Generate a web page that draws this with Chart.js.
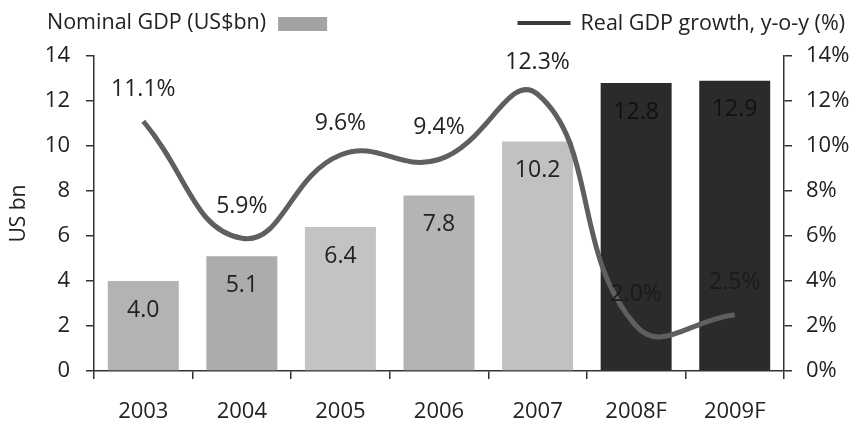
<!DOCTYPE html>
<html>
<head>
<meta charset="utf-8">
<script src="https://cdn.jsdelivr.net/npm/chart.js@4.4.1/dist/chart.umd.min.js"></script>
<style>
  html, body { margin: 0; padding: 0; background: #ffffff; }
  #wrap { width: 861px; height: 441px; position: relative; }
</style>
</head>
<body>
<div id="wrap"><canvas id="c"></canvas></div>
<script>
// ---- data ----
const categories = ['2003', '2004', '2005', '2006', '2007', '2008F', '2009F'];
const nominalGdp = [4.0, 5.1, 6.4, 7.8, 10.2, 12.8, 12.9];
const realGrowth = [11.1, 5.9, 9.6, 9.4, 12.3, 2.0, 2.5];
const barLabel = 'Nominal GDP (US$bn)';
const lineLabel = 'Real GDP growth, y-o-y (%)';
const leftAxisTitle = 'US bn';

// ---- styles ----
const FONT = '"Open Sans", Lato, sans-serif';
const TEXT = '#222222';
const AXIS = '#333333';
const barColors = ['#b3b3b3', '#acacac', '#c3c3c3', '#b4b4b4', '#c1c1c1', '#2b2b2b', '#2b2b2b'];
const barLabelColors = ['#222', '#222', '#222', '#222', '#222', '#111', '#111'];
const lineColor = '#5f5f5f';

const labelsPlugin = {
  id: 'valueLabels',
  afterDatasetsDraw(chart) {
    const ctx = chart.ctx;
    ctx.save();
    ctx.font = '23px ' + FONT;
    ctx.textAlign = 'center';
    ctx.textBaseline = 'middle';
    const barMeta = chart.getDatasetMeta(1);
    barMeta.data.forEach((el, i) => {
      ctx.fillStyle = barLabelColors[i];
      ctx.fillText(nominalGdp[i].toFixed(1), el.x, el.y + 29);
    });
    const lineMeta = chart.getDatasetMeta(0);
    lineMeta.data.forEach((el, i) => {
      ctx.fillStyle = i >= 5 ? '#1a1a1a' : TEXT;
      ctx.fillText(realGrowth[i].toFixed(1) + '%', el.x, el.y - 32);
    });
    ctx.restore();
  }
};

const legendPlugin = {
  id: 'customLegend',
  afterDraw(chart) {
    const ctx = chart.ctx;
    ctx.save();
    ctx.font = '21.5px ' + FONT;
    ctx.textBaseline = 'middle';
    ctx.fillStyle = TEXT;
    ctx.textAlign = 'left';
    ctx.fillText(barLabel, 47, 23);
    const w1 = ctx.measureText(barLabel).width;
    ctx.fillStyle = '#a3a3a3';
    ctx.fillRect(47 + w1 + 12, 17, 49, 14);
    // right legend item
    ctx.textAlign = 'right';
    ctx.fillStyle = TEXT;
    ctx.fillText(lineLabel, 845, 24);
    const w2 = ctx.measureText(lineLabel).width;
    const lx = 845 - w2 - 10;
    ctx.strokeStyle = '#3a3a3a';
    ctx.lineWidth = 4;
    ctx.beginPath();
    ctx.moveTo(lx - 53, 23);
    ctx.lineTo(lx, 23);
    ctx.stroke();
    ctx.restore();
  }
};

new Chart(document.getElementById('c'), {
  data: {
    labels: categories,
    datasets: [
      {
        type: 'line',
        label: lineLabel,
        data: realGrowth,
        yAxisID: 'y1',
        borderColor: lineColor,
        borderWidth: 5,
        pointRadius: 0,
        tension: 0.45,
        fill: false,
        order: 0
      },
      {
        type: 'bar',
        label: barLabel,
        data: nominalGdp,
        yAxisID: 'y',
        backgroundColor: barColors,
        borderWidth: 0,
        barPercentage: 0.72,
        categoryPercentage: 1.0,
        order: 1
      }
    ]
  },
  options: {
    responsive: true,
    maintainAspectRatio: false,
    animation: false,
    devicePixelRatio: 1,
    layout: { padding: { top: 56, left: 0, right: 0, bottom: 0 } },
    plugins: {
      legend: { display: false },
      tooltip: { enabled: false }
    },
    scales: {
      x: {
        type: 'category',
        offset: true,
        grid: { offset: true, drawOnChartArea: false, drawTicks: true, tickLength: 8, color: AXIS, lineWidth: 1.5 },
        border: { color: AXIS, width: 1.5 },
        ticks: { color: TEXT, font: { family: FONT, size: 22 }, padding: 20, maxRotation: 0 },
        afterFit(s) { s.height = 70; }
      },
      y: {
        position: 'left',
        min: 0,
        max: 14,
        ticks: { stepSize: 2, color: TEXT, font: { family: FONT, size: 22 }, padding: 16 },
        grid: { drawOnChartArea: false, drawTicks: true, tickLength: 8, color: AXIS, lineWidth: 1.5 },
        border: { color: AXIS, width: 1.5 },
        title: { display: true, text: leftAxisTitle, color: TEXT, font: { family: FONT, size: 21 }, padding: { top: 6, bottom: 0 } },
        afterFit(s) { s.width = 94; }
      },
      y1: {
        position: 'right',
        min: 0,
        max: 14,
        ticks: { stepSize: 2, color: TEXT, font: { family: FONT, size: 22 }, padding: 14, callback: v => v + '%' },
        grid: { drawOnChartArea: false, drawTicks: true, tickLength: 8, color: AXIS, lineWidth: 1.5 },
        border: { color: AXIS, width: 1.5 },
        afterFit(s) { s.width = 77; }
      }
    }
  },
  plugins: [labelsPlugin, legendPlugin]
});
</script>
</body>
</html>
